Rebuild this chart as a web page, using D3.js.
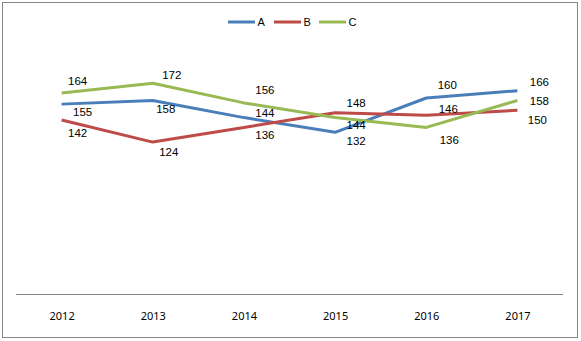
<!DOCTYPE html>
<html><head><meta charset="utf-8">
<script src="https://cdn.jsdelivr.net/npm/d3@7"></script>
<style>body{margin:0;background:#fff}svg{display:block}</style>
</head><body><svg id="c" width="581" height="341"></svg>
<script>
const categories = ["2012","2013","2014","2015","2016","2017"];
const seriesNames = ["A","B","C"];
const valuesA = [155,158,144,132,160,166];
const valuesB = [142,124,136,148,146,150];
const valuesC = [164,172,156,144,136,158];
const yTicks = [0,200];
const colors = ["#4A7EBB","#BE4B48","#98B954"];
// label offsets (px) per point, per series
const labelDyA = [8,8.5,-4.6,9,-13,-8.6];
const labelDyB = [13,10,7.6,-9.7,-6,10];
const labelDyC = [-12,-8,-13,7.4,12.6,0.5];
const labelDxA = [21,13,21,21,21,22];
const labelDxB = [16,16,21,21,22,20];
const labelDxC = [16,19,21,21,23,22];

const series = [
  {name:seriesNames[0], values:valuesA, dy:labelDyA, dx:labelDxA, color:colors[0]},
  {name:seriesNames[1], values:valuesB, dy:labelDyB, dx:labelDxB, color:colors[1]},
  {name:seriesNames[2], values:valuesC, dy:labelDyC, dx:labelDxC, color:colors[2]}
];

const svg = d3.select("#c");
svg.append("rect").attr("x",2.5).attr("y",2.5).attr("width",575).attr("height",335)
  .attr("fill","#fff").attr("stroke","#868686").attr("stroke-width",1);

const x = d3.scalePoint().domain(categories).range([16,563]).padding(0.5);
const y = d3.scaleLinear().domain([yTicks[0], yTicks[1]]).range([294,49]);

const xAxis = d3.axisBottom(x).tickSize(0).tickPadding(0);
const gx = svg.append("g").attr("transform","translate(0,294)").call(xAxis);
gx.select(".domain").attr("stroke","#868686").attr("stroke-width",1).attr("d","M16,0.5H563");
gx.selectAll("text").attr("font-family","Noto Sans, DejaVu Sans, sans-serif").attr("font-size","11px")
  .attr("fill","#000").attr("dy",null).attr("y",25.5);

const line = d3.line().x((d,i)=>x(categories[i])).y(d=>y(d));
series.forEach(s=>{
  svg.append("path").attr("d",line(s.values)).attr("fill","none")
    .attr("stroke",s.color).attr("stroke-width",3).attr("stroke-linejoin","round");
});
series.forEach(s=>{
  svg.append("g").selectAll("text").data(s.values).join("text")
    .attr("x",(d,i)=>x(categories[i])+s.dx[i])
    .attr("y",(d,i)=>y(d)+s.dy[i])
    .attr("dy","0.35em").attr("text-anchor","middle")
    .attr("font-family","Liberation Sans, Arial, sans-serif").attr("font-size","11.5px")
    .attr("fill","#000").text(d=>d);
});

const leg = svg.append("g");
const legX = [228,274,319];
series.forEach((s,i)=>{
  leg.append("line").attr("x1",legX[i]).attr("x2",legX[i]+27).attr("y1",22).attr("y2",22)
    .attr("stroke",s.color).attr("stroke-width",3);
  leg.append("text").attr("x",legX[i]+29.5).attr("y",22).attr("dy","0.35em")
    .attr("font-family","Liberation Sans, Arial, sans-serif").attr("font-size","11px")
    .attr("fill","#000").text(s.name);
});
</script></body></html>
